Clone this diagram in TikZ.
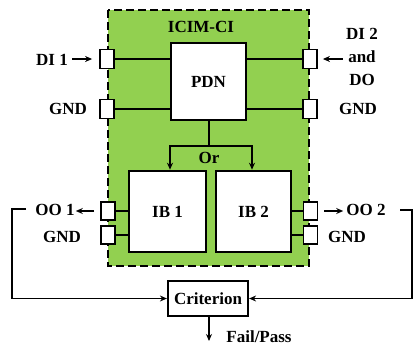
\documentclass[tikz,border=0pt]{standalone}
\usepackage{fontspec}
\setmainfont{Liberation Serif}
\usetikzlibrary{arrows.meta}
\definecolor{chipgreen}{HTML}{92D050}
\tikzset{
  lbl/.style={font=\fontsize{17bp}{23bp}\selectfont\bfseries, inner sep=0pt},
  blk/.style={draw, line width=2.6bp, fill=white, inner sep=0pt, font=\fontsize{17bp}{20bp}\selectfont\bfseries},
  pin/.style={draw, line width=1.8bp, fill=white, minimum width=14bp, minimum height=19bp, inner sep=0pt},
  wire/.style={line width=2bp},
  arr/.style={line width=1.8bp, -{Stealth[length=7bp,width=6bp]}},
}
\begin{document}
\begin{tikzpicture}[x=1bp,y=-1bp]
\useasboundingbox (0,0) rectangle (413,347);
% green dashed chip area
\draw[fill=chipgreen, line width=2.6bp, dash pattern=on 8bp off 4bp] (108,10) rectangle (309,266);
\node[lbl] (title) at (201,27) {ICIM-CI};
% blocks
\node[blk, minimum width=75bp, minimum height=77bp] (pdn) at (208.5,81.5) {PDN};
\node[blk, minimum width=77bp, minimum height=81bp] (ib1) at (167.5,211.5) {IB 1};
\node[blk, minimum width=75bp, minimum height=81bp] (ib2) at (253.5,211.5) {IB 2};
\node[blk, line width=2.2bp, minimum width=80bp, minimum height=35bp] (crit) at (208,298.5) {Criterion};
% pins
\node[pin] (p1) at (107,59) {};
\node[pin] (p2) at (107,109) {};
\node[pin] (p3) at (310,59) {};
\node[pin] (p4) at (310,109) {};
\node[pin, minimum height=18bp] (p5) at (108,211) {};
\node[pin, minimum height=18bp] (p6) at (108,235) {};
\node[pin, minimum height=18bp] (p7) at (310.5,211) {};
\node[pin, minimum height=18bp] (p8) at (310.5,235) {};
% pin wires
\draw[wire] (p1.east) -- (pdn.west |- p1);
\draw[wire] (p2.east) -- (pdn.west |- p2);
\draw[wire] (p3.west) -- (pdn.east |- p3);
\draw[wire] (p4.west) -- (pdn.east |- p4);
\draw[wire] (p5.east) -- (ib1.west |- p5);
\draw[wire] (p6.east) -- (ib1.west |- p6);
\draw[wire] (p7.west) -- (ib2.east |- p7);
\draw[wire] (p8.west) -- (ib2.east |- p8);
% PDN split
\coordinate (split) at (209,146);
\draw[wire] (pdn.south -| split) -- (split);
\draw[arr] (split) -| ([xshift=2.5bp]ib1.north);
\draw[arr] (split) -| ([xshift=-1.5bp]ib2.north);
\node[lbl] (or) at (209,158) {Or};
% labels
\node[lbl] (di1) at (52,60) {DI 1};
\node[lbl] (gnd1) at (68,109) {GND};
\node[lbl, align=center] (di2) at (362,57) {DI 2\\and\\DO};
\node[lbl] (gnd2) at (358,109) {GND};
\node[lbl] (oo1) at (55,210) {OO 1};
\node[lbl] (gnd3) at (62,237) {GND};
\node[lbl] (oo2) at (366,210) {OO 2};
\node[lbl] (gnd4) at (347,237) {GND};
\node[lbl] (fp) at (259,337) {Fail/Pass};
% arrows
\draw[arr] ([xshift=4bp]di1.east |- p1) -- ([xshift=-7bp]p1.west);
\draw[arr] ([xshift=-3bp]di2.west |- p3) -- ([xshift=5bp]p3.east);
\draw[arr] ([xshift=-6bp]p5.west) -- ([xshift=1bp]oo1.east |- p5);
\draw[arr] ([xshift=6bp]p7.east) -- ([xshift=-3bp]oo2.west |- p7);
% feedback
\coordinate (l1) at (26,209);
\coordinate (l2) at (12,209);
\draw[arr, line width=1.6bp] (l1) -- (l2) |- (crit.west);
\coordinate (r1) at (400,210);
\coordinate (r2) at (412,210);
\draw[arr, line width=1.6bp] (r1) -- (r2) |- (crit.east);
\coordinate (fpend) at (209,341);
\draw[arr, line width=1.6bp] (crit.south -| fpend) -- (fpend);
\end{tikzpicture}
\end{document}
